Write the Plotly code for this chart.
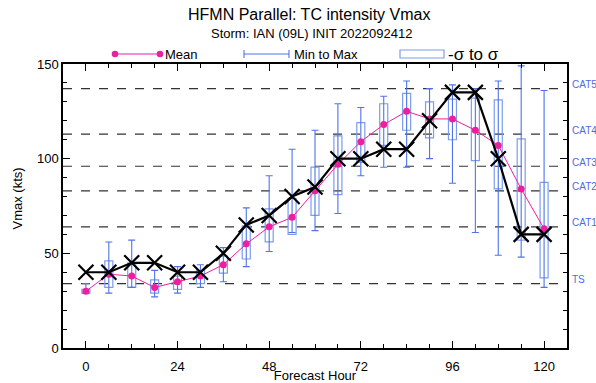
import plotly.graph_objects as go

# ---------------- data ----------------
hours = [0, 6, 12, 18, 24, 30, 36, 42, 48, 54, 60, 66, 72, 78, 84, 90, 96, 102, 108, 114, 120]
control = [40, 40, 45, 45, 40, 40, 50, 65, 70, 80, 85, 100, 100, 105, 105, 120, 135, 135, 100, 60, 60]
mean_v = [30, 39, 38, 32, 35, 38, 44, 55, 64, 69, 83, 97, 109, 118, 125, 121, 121, 115, 107, 84, 63]
sig_lo = [29, 32, 32, 29, 31, 34, 39.5, 47, 56, 60, 70, 81, 98, 107, 115, 111, 110, 99, 84, 57, 37]
sig_hi = [31, 46, 45, 36, 38, 41, 48.5, 64.5, 73.5, 79, 95.5, 112, 119, 129, 134.5, 130, 131.5, 132, 131, 110.5, 87.5]
v_min = [29, 29, 32, 27, 29, 32, 35, 43, 51, 61, 62, 71, 91, 95.5, 95.5, 100, 87, 61, 49, 48, 32]
v_max = [34, 56, 57, 41, 43, 44, 53, 74, 91, 105, 115, 129, 127, 133, 141, 137, 139, 137, 141, 149, 136]

cat_names = ["TS", "CAT1", "CAT2", "CAT3", "CAT4", "CAT5"]
cat_values = [34, 64, 83, 96, 113, 137]

x_ticks = [0, 24, 48, 72, 96, 120]
y_ticks = [0, 50, 100, 150]

# ---------------- layout geometry ----------------
W, H = 596, 383
ML, MR, MT, MB = 63, 29, 64, 35
PW, PH = W - ML - MR, H - MT - MB
FONT = "Liberation Sans, Arial, Helvetica, sans-serif"

def px(xp):
    return (xp - ML) / PW

def py(yp):
    return (H - MB - yp) / PH

BLUE = "#4f74ea"
BOXBLUE = "#7d9cf0"
MAG = "#ee1f9f"

fig = go.Figure()

# sigma boxes
fig.add_trace(go.Bar(
    x=hours,
    base=sig_lo,
    y=[h - l for h, l in zip(sig_hi, sig_lo)],
    width=2.1,
    marker=dict(color="rgba(255,255,255,0)", line=dict(color=BOXBLUE, width=1.2)),
    showlegend=False, hoverinfo="skip",
))

# min-max whiskers
fig.add_trace(go.Scatter(
    x=hours, y=v_min, mode="markers",
    marker=dict(size=1, color="rgba(0,0,0,0)"),
    error_y=dict(type="data", symmetric=False,
                 array=[a - b for a, b in zip(v_max, v_min)],
                 arrayminus=[0] * len(v_min),
                 color=BLUE, thickness=1.1, width=3.5),
    showlegend=False, hoverinfo="skip",
))

# mean
fig.add_trace(go.Scatter(
    x=hours, y=mean_v, mode="lines+markers",
    line=dict(color=MAG, width=1),
    marker=dict(symbol="circle", size=7, color=MAG),
    showlegend=False,
))

# control line with X markers
fig.add_trace(go.Scatter(
    x=hours, y=control, mode="lines+markers",
    line=dict(color="black", width=2.2),
    marker=dict(symbol="x-thin", size=15, line=dict(color="black", width=2.2)),
    showlegend=False,
))

shapes = []
annotations = []

# category reference lines
for name, v in zip(cat_names, cat_values):
    shapes.append(dict(type="line", xref="paper", x0=0, x1=1, yref="y", y0=v, y1=v,
                       line=dict(color="#333333", width=1.2, dash="dash"), layer="below"))
    annotations.append(dict(xref="paper", x=1, xshift=3, xanchor="left", yref="y", y=v,
                            yshift=4, yanchor="middle", text=name, showarrow=False,
                            font=dict(family=FONT, size=10, color="#4a6de0")))

# title
annotations.append(dict(xref="paper", yref="paper", x=px(309), y=py(15), text="HFMN Parallel: TC intensity Vmax",
                        showarrow=False, xanchor="center", yanchor="middle",
                        font=dict(family=FONT, size=16, color="black")))
annotations.append(dict(xref="paper", yref="paper", x=px(311), y=py(33), text="Storm: IAN (09L) INIT 2022092412",
                        showarrow=False, xanchor="center", yanchor="middle",
                        font=dict(family=FONT, size=13, color="black")))

# y-axis title
annotations.append(dict(xref="paper", yref="paper", x=px(17), y=py(198.5), text="Vmax (kts)",
                        showarrow=False, xanchor="center", yanchor="middle", textangle=-90,
                        font=dict(family=FONT, size=13, color="black")))

# legend (drawn manually)
ly = 54
shapes.append(dict(type="line", xref="paper", yref="paper", x0=px(115), x1=px(160), y0=py(ly), y1=py(ly),
                   line=dict(color=MAG, width=1.2)))
r = 3.3
for cx in (115, 160):
    shapes.append(dict(type="circle", xref="paper", yref="paper", x0=px(cx - r), x1=px(cx + r),
                       y0=py(ly + r), y1=py(ly - r), fillcolor=MAG, line=dict(color=MAG, width=0)))
annotations.append(dict(xref="paper", yref="paper", x=px(163), y=py(ly + 1), text="Mean", showarrow=False,
                        xanchor="left", yanchor="middle", font=dict(family=FONT, size=13, color="black")))

shapes.append(dict(type="line", xref="paper", yref="paper", x0=px(244), x1=px(289), y0=py(ly), y1=py(ly),
                   line=dict(color=BLUE, width=1.1)))
for cx in (244, 289):
    shapes.append(dict(type="line", xref="paper", yref="paper", x0=px(cx), x1=px(cx), y0=py(ly - 4), y1=py(ly + 4),
                       line=dict(color=BLUE, width=1.1)))
annotations.append(dict(xref="paper", yref="paper", x=px(292), y=py(ly + 1), text="Min to Max", showarrow=False,
                        xanchor="left", yanchor="middle", font=dict(family=FONT, size=13, color="black")))

shapes.append(dict(type="rect", xref="paper", yref="paper", x0=px(400), x1=px(444), y0=py(50), y1=py(58),
                   line=dict(color=BOXBLUE, width=1.2), fillcolor="rgba(255,255,255,0)"))
annotations.append(dict(xref="paper", yref="paper", x=px(446), y=py(ly), text="-σ to σ", showarrow=False,
                        xanchor="left", yanchor="middle", font=dict(family=FONT, size=17, color="black")))

fig.update_layout(
    width=W, height=H,
    margin=dict(l=ML, r=MR, t=MT, b=MB, pad=0),
    paper_bgcolor="white", plot_bgcolor="white",
    font=dict(family=FONT, size=13, color="black"),
    shapes=shapes, annotations=annotations,
    showlegend=False,
    barmode="overlay",
)

fig.update_xaxes(
    range=[-6, 126], tickvals=x_ticks, ticktext=[str(t) for t in x_ticks],
    ticks="inside", ticklen=7, tickwidth=1, tickcolor="black",
    minor=dict(dtick=6, tick0=0, ticks="inside", ticklen=4, tickcolor="black", showgrid=False),
    showline=True, linecolor="black", linewidth=1.5, mirror="ticks",
    showgrid=False, zeroline=False,
    tickfont=dict(family=FONT, size=13),
    ticklabelstandoff=6,
    title=dict(text="Forecast Hour", font=dict(family=FONT, size=13), standoff=1),
    automargin=False,
)
fig.update_yaxes(
    range=[0, 150], tickvals=y_ticks, ticktext=[str(t) for t in y_ticks],
    ticks="inside", ticklen=7, tickwidth=1, tickcolor="black",
    minor=dict(dtick=10, tick0=0, ticks="inside", ticklen=4, tickcolor="black", showgrid=False),
    showline=True, linecolor="black", linewidth=1.5, mirror="ticks",
    showgrid=False, zeroline=False,
    tickfont=dict(family=FONT, size=13),
    automargin=False,
)

fig.write_html("out.html", config={"displayModeBar": False},
               post_script="document.body.style.margin='0px';document.body.style.overflow='hidden';")
